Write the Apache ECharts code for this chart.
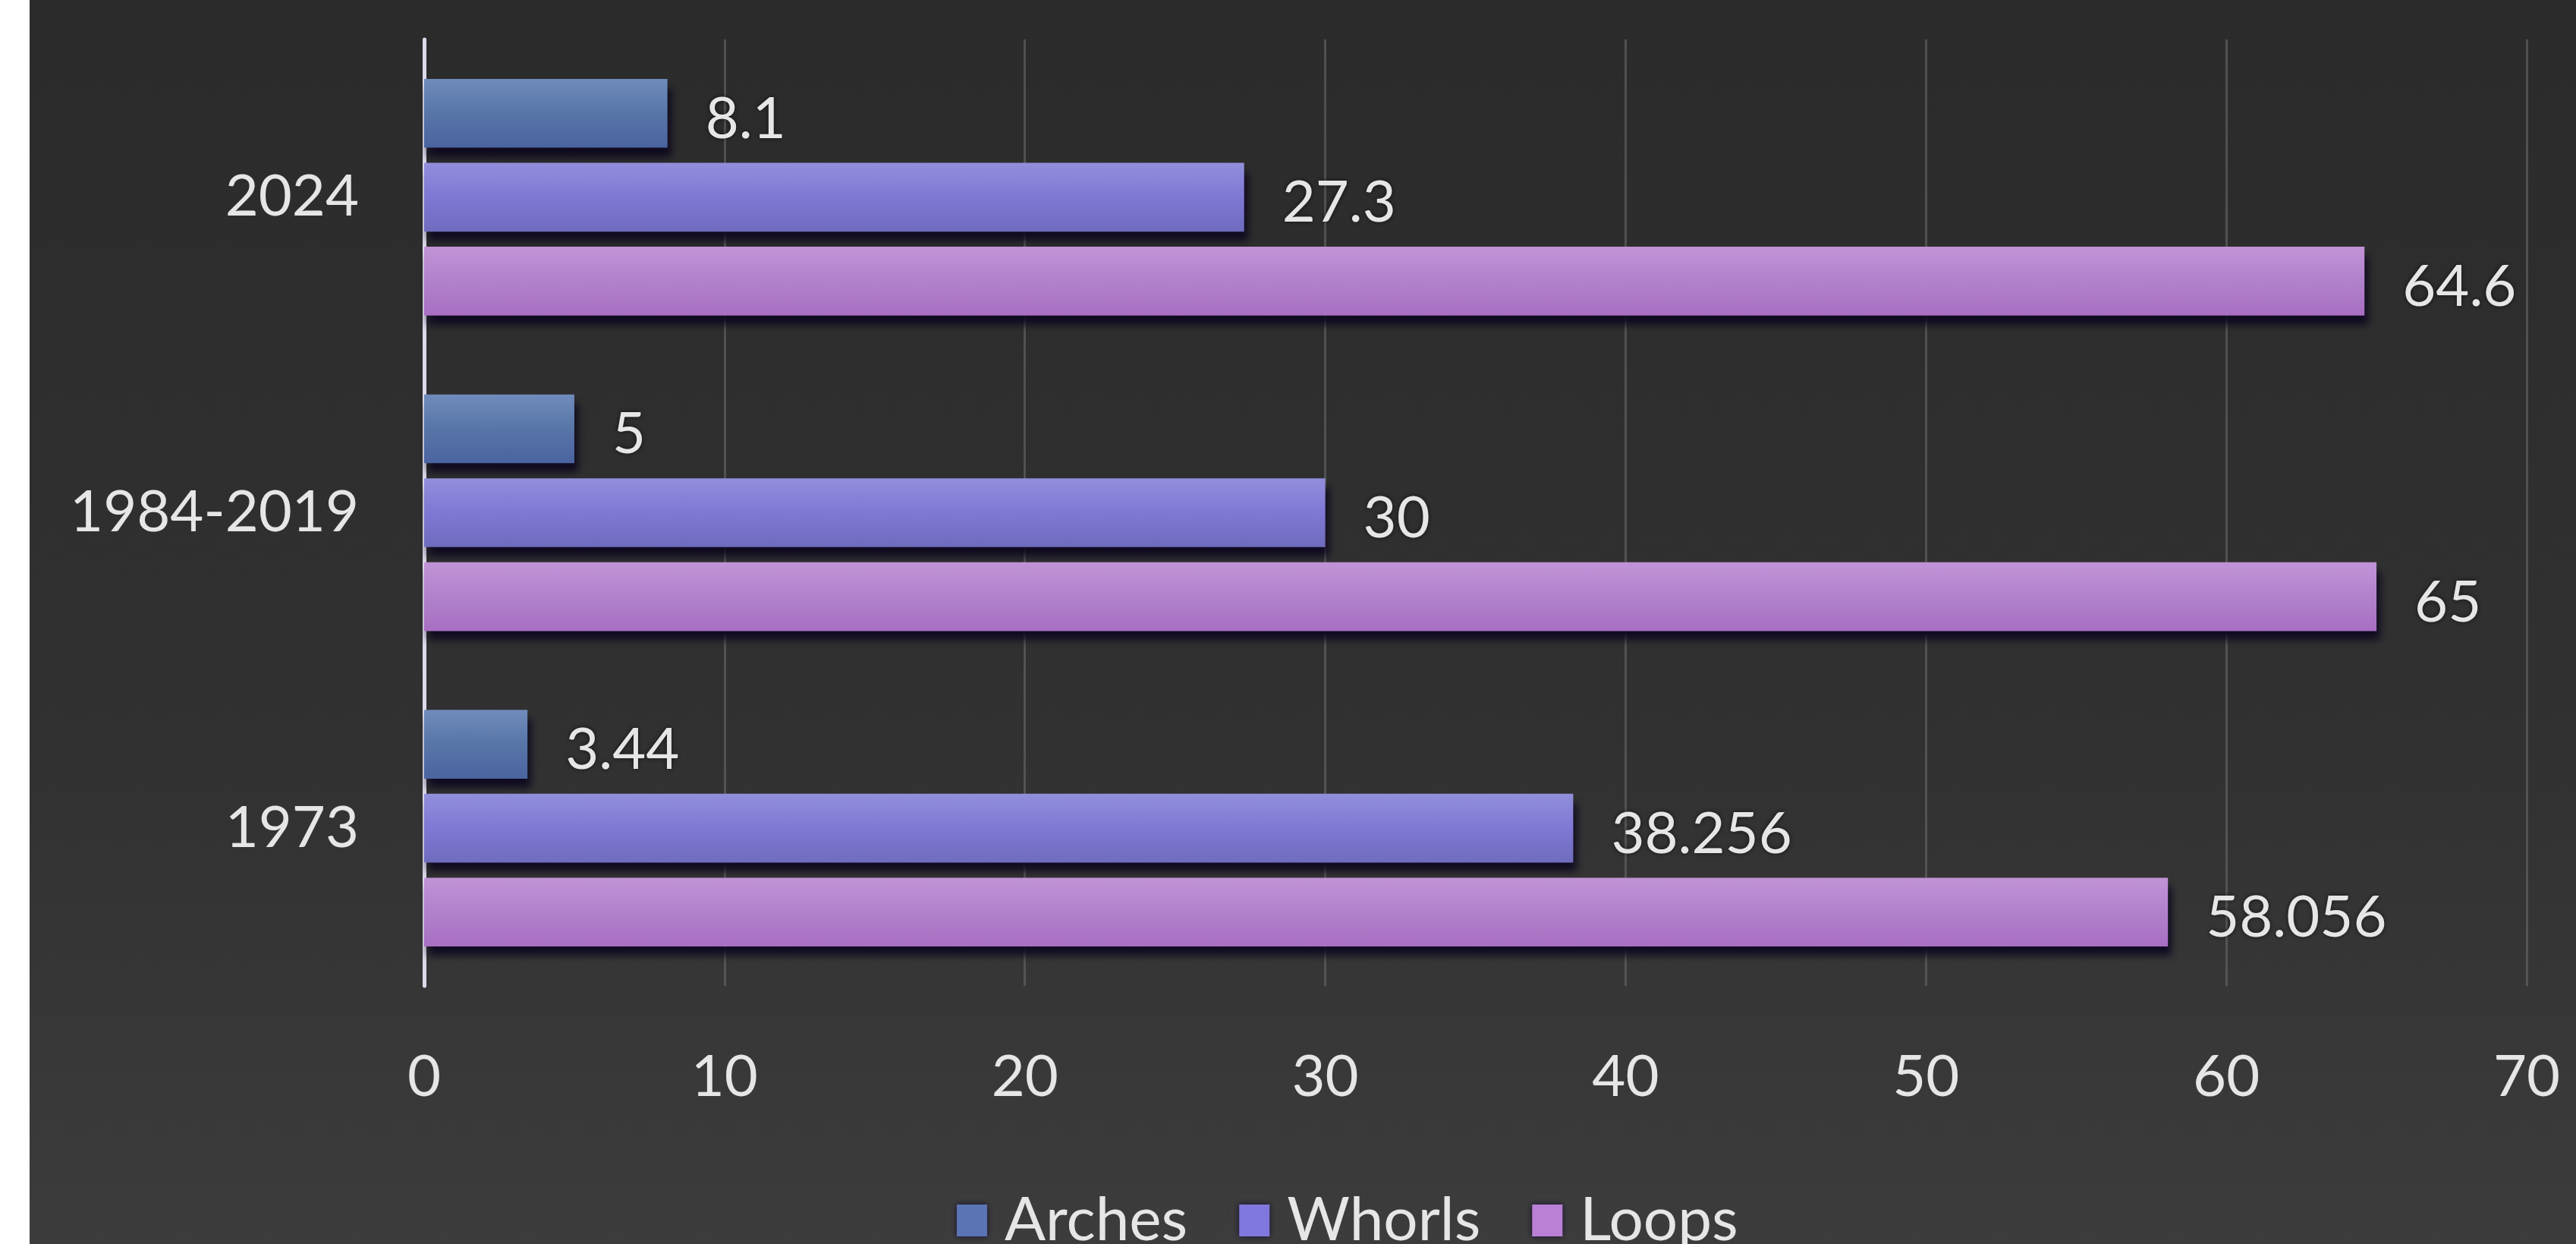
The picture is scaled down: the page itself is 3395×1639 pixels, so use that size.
<!DOCTYPE html>
<html>
<head>
<meta charset="utf-8">
<script src="https://cdn.jsdelivr.net/npm/echarts@6/dist/echarts.min.js"></script>
<style>
html,body{margin:0;padding:0;background:#ffffff;}
#chart{position:absolute;left:0;top:0;width:3395px;height:1639px;}
</style>
</head>
<body>
<div id="chart"></div>
<script>
const categories = ['1973', '1984-2019', '2024'];
const arches = [3.44, 5, 8.1];
const whorls = [38.256, 30, 27.3];
const loops = [58.056, 65, 64.6];
const xTicks = [0, 10, 20, 30, 40, 50, 60, 70];
const seriesNames = ['Arches', 'Whorls', 'Loops'];

const FONT = 'Lato';
const FS = 76;
const TXT = '#e6e6e6';

function grad(top, mid, bot) {
  return new echarts.graphic.LinearGradient(0, 0, 0, 1, [
    {offset: 0, color: top}, {offset: 0.5, color: mid}, {offset: 1, color: bot}
  ]);
}
const styles = {
  Arches: {fill: grad('#6f8cbc', '#5875a8', '#4a64a0'), legend: '#5a74b4'},
  Whorls: {fill: grad('#928fdc', '#7f78d4', '#6f6cbe'), legend: '#8078dc'},
  Loops:  {fill: grad('#c193d6', '#b182cc', '#a86ec2'), legend: '#ba80d6'}
};
const dataMap = {Arches: arches, Whorls: whorls, Loops: loops};

const chart = echarts.init(document.getElementById('chart'), null, {renderer: 'canvas'});

const series = seriesNames.map(name => ({
  name: name,
  type: 'bar',
  data: dataMap[name],
  barGap: '22%',
  barCategoryGap: '25%',
  itemStyle: {
    color: styles[name].fill,
    shadowColor: 'rgba(12,6,30,0.9)',
    shadowBlur: 10,
    shadowOffsetX: 5,
    shadowOffsetY: 12
  },
  label: {
    show: true,
    position: 'right',
    distance: 50,
    offset: [0, 8],
    color: TXT,
    fontFamily: FONT,
    fontSize: FS,
    textShadowColor: 'rgba(0,0,0,0.6)',
    textShadowBlur: 6
  },
  emphasis: {disabled: true}
}));

chart.setOption({
  animation: false,
  backgroundColor: new echarts.graphic.LinearGradient(0, 0, 0, 1, [
    {offset: 0, color: '#2b2b2b'}, {offset: 0.6, color: '#313131'}, {offset: 1, color: '#3c3c3c'}
  ]),
  graphic: [{
    type: 'rect', left: 0, top: 0, z: 100,
    shape: {width: 39, height: 1639},
    style: {fill: '#ffffff'}
  }],
  grid: {left: 559, right: 65, top: 52, bottom: 340, containLabel: false},
  legend: {
    data: seriesNames.map(n => ({name: n, itemStyle: {color: styles[n].legend, shadowColor: 'rgba(10,5,40,0.8)', shadowBlur: 8}})),
    left: 1256,
    top: 1563,
    itemWidth: 40,
    itemHeight: 42,
    itemGap: 68,
    icon: 'rect',
    textStyle: {color: TXT, fontFamily: FONT, fontSize: 80, padding: [0, 0, 0, 18]}
  },
  xAxis: {
    type: 'value',
    min: xTicks[0],
    max: xTicks[xTicks.length - 1],
    interval: 10,
    axisLine: {show: false},
    axisTick: {show: false},
    axisLabel: {color: TXT, fontFamily: FONT, fontSize: FS, margin: 82},
    splitLine: {show: true, lineStyle: {color: 'rgba(105,105,105,0.6)', width: 3}}
  },
  yAxis: {
    type: 'category',
    data: categories,
    axisLine: {show: true, lineStyle: {color: '#dcdaea', width: 5}},
    axisTick: {show: false},
    axisLabel: {color: TXT, fontFamily: FONT, fontSize: FS, margin: 86}
  },
  series: series
});
</script>
</body>
</html>
